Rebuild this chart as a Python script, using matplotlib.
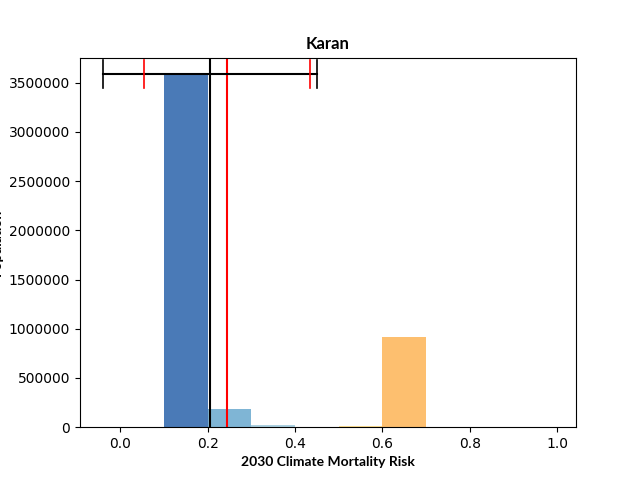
import matplotlib
matplotlib.use("Agg")
import matplotlib.pyplot as plt

plt.rcParams['font.family'] = ['Lato', 'DejaVu Sans']

# histogram bins and population counts
bin_left = [0.1, 0.2, 0.3, 0.5, 0.6]
pops = [3590000, 185000, 20000, 14000, 920000]
colors = ["#4a7ab7", "#7fb5d5", "#abd0e0", "#fee090", "#fdbf6f"]

mean_risk = 0.206
median_risk = 0.245
ci_black = [-0.039, 0.451]
ci_red = [0.055, 0.435]

fig, ax = plt.subplots(figsize=(6.4, 4.8), dpi=100)
ax.bar(bin_left, pops, width=0.1, align='edge', color=colors)
ax.axvline(mean_risk, color='black')
ax.axvline(median_risk, color='red')
ax.plot(ci_black, [pops[0]] * 2, color='black')
for x in ci_black:
    ax.plot([x, x], [pops[0] - 140000, pops[0] + 140000], color='black', lw=1.2)
for x in ci_red:
    ax.plot([x, x], [pops[0] - 140000, pops[0] + 140000], color='red', lw=1.2)

ax.set_xlim(-0.092, 1.043)
ax.set_ylim(0, 3755000)
ax.ticklabel_format(style='plain', axis='y')
for lab in ax.get_xticklabels() + ax.get_yticklabels():
    lab.set_family('DejaVu Sans')
ax.set_title("Karan", fontweight='bold')
ax.set_xlabel("2030 Climate Mortality Risk", fontweight='bold')
ax.set_ylabel("Population", fontweight='bold')
fig.savefig("out.png")
